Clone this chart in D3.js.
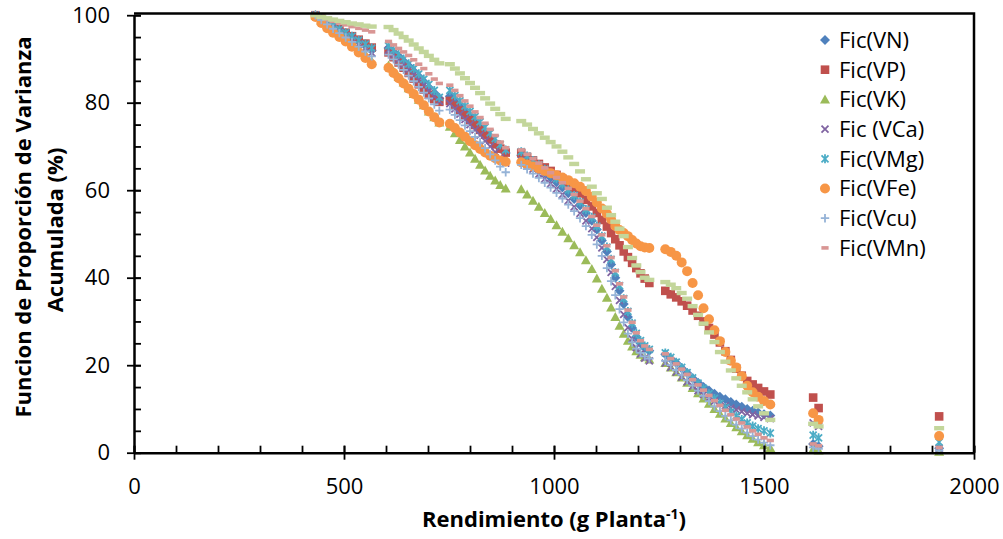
<!DOCTYPE html>
<html>
<head>
<meta charset="utf-8">
<script src="https://cdn.jsdelivr.net/npm/d3@7"></script>
<style>
  body { margin: 0; background: #fff; }
  svg { display: block; font-family: "Open Sans", Lato, sans-serif; }
</style>
</head>
<body>
<svg id="chart" width="1003" height="539"></svg>
<script>
// shared yield values (g planta-1), sorted
const rendimiento = [
  432, 446, 460, 474, 489, 504, 519, 535, 551, 566,
  606, 618, 630, 642, 654, 666, 678, 690, 702, 715, 727,
  752, 764, 776, 788, 800, 812, 824, 836, 848, 860, 872, 885,
  922, 936, 950, 964, 978, 992, 1006, 1020, 1034, 1048, 1062, 1076, 1090, 1102, 1114, 1126, 1136, 1146, 1156, 1166, 1176, 1186, 1196, 1206, 1216, 1227,
  1265, 1278, 1291, 1304, 1317, 1330, 1343, 1356, 1369, 1382, 1395, 1408, 1421, 1434, 1447, 1460, 1473, 1486, 1500, 1515,
  1617, 1630, 1917
];

const ficVN = [
  100, 99.0, 98.2, 97.4, 96.6, 95.8, 95.0, 94.0, 93.0, 92.0,
  92.5, 91.6, 90.6, 89.5, 88.4, 87.2, 86.0, 84.8, 83.5, 82.2, 81.0,
  81.5, 80.2, 79.0, 77.8, 76.6, 75.4, 74.2, 73.0, 71.8, 70.6, 69.5, 68.5,
  68.0, 67.0, 66.0, 65.0, 64.0, 62.9, 61.8, 60.6, 59.3, 58.0, 56.5, 54.8, 53.0, 51.0, 48.5, 46.0, 43.0, 40.0, 37.0, 34.0, 31.0, 28.5, 26.5, 25.0, 24.0, 23.3,
  22.5, 21.5, 20.5, 19.3, 18.2, 17.0, 16.0, 15.0, 14.2, 13.5, 12.8, 12.2, 11.6, 11.0, 10.5, 10.0, 9.6, 9.2, 8.8, 8.5,
  2.0, 1.5, 1.0
];
const ficVP = [
  100, 99.2, 98.4, 97.6, 96.8, 96.0, 95.2, 94.4, 93.5, 92.6,
  91.5, 90.4, 89.2, 88.0, 86.8, 85.5, 84.2, 83.0, 81.8, 80.8, 80.2,
  80.4, 79.3, 78.2, 77.1, 76.0, 74.9, 73.8, 72.7, 71.6, 70.5, 69.5, 68.6,
  68.5, 67.6, 66.8, 66.0, 65.2, 64.4, 63.5, 62.6, 61.6, 60.5, 59.3, 57.8, 56.3, 54.8, 53.2, 51.7, 50.2, 48.8, 47.4, 46.0, 44.7, 43.4, 42.2, 41.0, 39.8, 38.8,
  37.0, 36.2, 35.5, 34.6, 33.6, 32.5, 31.3, 30.0, 28.5, 27.0, 25.2, 23.2, 21.2, 19.2, 17.6, 16.4, 15.6, 14.8, 14.0, 13.3,
  12.6, 10.2, 8.3
];
const ficVK = [
  100, 98.8, 97.8, 96.8, 95.8, 94.8, 93.6, 92.4, 91.0, 89.5,
  88.5, 87.2, 85.9, 84.6, 83.3, 82.0, 80.7, 79.4, 78.0, 76.7, 75.5,
  74.5, 73.0, 71.5, 70.0, 68.6, 67.2, 65.8, 64.5, 63.3, 62.2, 61.2, 60.4,
  60.2, 59.0, 57.6, 56.2, 54.8, 53.4, 52.0, 50.5, 49.0, 47.4, 45.8, 44.0, 42.0, 39.8, 37.5, 35.4, 33.2, 31.0, 29.0, 27.2, 25.6, 24.3, 23.2, 22.4, 21.8, 21.3,
  20.5, 19.5, 18.4, 17.2, 16.0, 14.8, 13.6, 12.4, 11.2, 10.0, 8.9, 7.8, 6.8, 5.8, 4.9, 4.0, 3.2, 2.4, 1.7, 1.1,
  0.8, 0.5, 0.2
];
const ficVCa = [
  100, 99.0, 98.0, 97.1, 96.2, 95.3, 94.4, 93.4, 92.4, 91.4,
  92.0, 91.0, 89.9, 88.8, 87.6, 86.4, 85.2, 84.0, 82.7, 81.4, 80.3,
  79.8, 78.6, 77.4, 76.2, 75.0, 73.8, 72.6, 71.3, 70.0, 68.7, 67.4, 66.2,
  66.8, 65.8, 64.8, 63.7, 62.6, 61.5, 60.3, 59.0, 57.6, 56.2, 54.7, 53.0, 51.2, 49.2, 46.8, 44.2, 41.2, 38.0, 34.8, 31.6, 28.6, 26.0, 24.0, 22.6, 21.6, 21.0,
  20.5, 19.5, 18.4, 17.3, 16.2, 15.2, 14.2, 13.3, 12.5, 11.8, 11.2, 10.7, 10.2, 9.8, 9.4, 9.0, 8.7, 8.4, 8.1, 7.8,
  6.8, 6.0, 1.0
];
const ficVMg = [
  100, 99.2, 98.4, 97.6, 96.8, 96.0, 95.2, 94.3, 93.4, 92.5,
  93.0, 92.0, 91.0, 90.0, 88.9, 87.8, 86.6, 85.4, 84.2, 82.8, 81.2,
  82.8, 81.6, 80.4, 79.2, 78.0, 76.8, 75.6, 74.4, 73.1, 71.8, 70.4, 69.2,
  68.8, 67.8, 66.8, 65.8, 64.8, 63.7, 62.6, 61.4, 60.1, 58.8, 57.3, 55.6, 53.8, 51.8, 49.5, 47.0, 44.2, 41.2, 38.2, 35.2, 32.3, 29.6, 27.3, 25.6, 24.4, 23.6,
  22.8, 21.8, 20.7, 19.5, 18.3, 17.1, 15.9, 14.7, 13.5, 12.4, 11.3, 10.3, 9.3, 8.4, 7.6, 6.8, 6.1, 5.5, 5.0, 4.5,
  4.0, 3.4, 2.4
];
const ficVFe = [
  99.6, 98.2, 97.0, 96.0, 95.0, 94.0, 92.8, 91.5, 90.2, 88.8,
  88.0, 86.8, 85.6, 84.4, 83.2, 82.0, 80.7, 79.4, 78.0, 76.7, 75.5,
  75.2, 74.2, 73.2, 72.2, 71.2, 70.3, 69.4, 68.6, 67.9, 67.3, 66.8, 66.5,
  66.4, 65.9, 65.4, 64.9, 64.4, 63.9, 63.4, 62.9, 62.3, 61.6, 60.8, 59.8, 58.5, 57.2, 55.8, 54.6, 53.3, 51.8, 50.9, 50.2, 49.5, 48.6, 47.8, 47.2, 46.9, 46.8,
  46.5, 45.9, 45.0, 43.5, 41.5, 38.8, 36.0, 33.0, 30.5, 28.0, 25.5, 23.0, 21.0, 19.5, 17.5, 15.3, 13.8, 12.8, 11.8, 11.0,
  9.0, 7.5, 3.8
];
const ficVcu = [
  100, 98.9, 97.9, 96.9, 95.9, 94.9, 93.9, 92.8, 91.7, 90.6,
  91.0, 89.9, 88.7, 87.5, 86.2, 84.9, 83.6, 82.3, 81.0, 79.6, 78.2,
  78.4, 77.2, 76.0, 74.8, 73.5, 72.2, 70.9, 69.6, 68.2, 66.8, 65.4, 64.1,
  65.8, 64.8, 63.8, 62.8, 61.7, 60.6, 59.4, 58.1, 56.7, 55.2, 53.6, 51.8, 49.8, 47.6, 45.0, 42.2, 39.2, 36.0, 32.8, 29.8, 27.2, 25.2, 23.8, 22.8, 22.0, 21.5,
  21.0, 20.0, 18.9, 17.8, 16.6, 15.4, 14.2, 13.0, 11.8, 10.6, 9.5, 8.4, 7.4, 6.4, 5.5, 4.6, 3.8, 3.0, 2.3, 1.7,
  1.2, 0.9, 0.5
];
const ficVMn = [
  100, 99.5, 99.0, 98.6, 98.2, 97.8, 97.4, 97.0, 96.6, 96.2,
  94.0, 93.2, 92.4, 91.6, 90.8, 89.8, 88.8, 87.8, 86.6, 85.4, 84.4,
  84.0, 82.8, 81.6, 80.4, 79.2, 77.9, 76.6, 75.3, 73.9, 72.5, 71.0, 69.7,
  69.2, 68.2, 67.2, 66.2, 65.1, 64.0, 62.9, 61.7, 60.4, 59.0, 57.5, 55.8, 54.0, 52.0, 49.8, 47.3, 44.6, 41.6, 38.6, 35.6, 32.6, 29.8, 27.4, 25.6, 24.4, 23.6,
  22.6, 21.5, 20.3, 19.1, 17.9, 16.7, 15.5, 14.3, 13.1, 11.9, 10.8, 9.7, 8.7, 7.7, 6.8, 5.9, 5.0, 4.2, 3.4, 2.8,
  2.0, 1.6, 1.2
];
// ninth series, plotted but left out of the legend
const ficExtra = [
  100, 99.6, 99.3, 99.0, 98.7, 98.4, 98.1, 97.9, 97.6, 97.4,
  97.3, 96.6, 95.8, 95.0, 94.2, 93.3, 92.4, 91.6, 90.7, 89.8, 89.0,
  88.8, 87.8, 86.7, 85.6, 84.5, 83.4, 82.2, 81.0, 79.8, 78.6, 77.4, 76.3,
  75.8, 75.0, 74.0, 73.0, 72.0, 71.0, 70.0, 68.8, 67.5, 66.0, 64.3, 62.5, 60.8, 59.3, 58.0, 56.0, 54.3, 52.8, 51.2, 49.5, 47.0, 44.5, 42.8, 41.3, 40.0, 39.5,
  39.0, 38.4, 37.6, 36.5, 35.2, 33.5, 31.5, 29.5, 27.5, 25.3, 23.0, 20.8, 18.8, 17.0, 15.3, 13.8, 12.2, 10.6, 9.0, 7.5,
  6.6, 6.0, 5.6
];

const legendNames = ["Fic(VN)", "Fic(VP)", "Fic(VK)", "Fic (VCa)", "Fic(VMg)", "Fic(VFe)", "Fic(Vcu)", "Fic(VMn)"];
const xTicks = [0, 500, 1000, 1500, 2000];
const yTicks = [0, 20, 40, 60, 80, 100];

const series = [
  { name: legendNames[0], values: ficVN, marker: "diamond", color: "#4F81BD" },
  { name: legendNames[1], values: ficVP, marker: "square", color: "#C0504D" },
  { name: legendNames[2], values: ficVK, marker: "triangle", color: "#9BBB59" },
  { name: legendNames[3], values: ficVCa, marker: "x", color: "#8064A2" },
  { name: legendNames[4], values: ficVMg, marker: "star", color: "#4BACC6" },
  { name: legendNames[5], values: ficVFe, marker: "circle", color: "#F79646" },
  { name: legendNames[6], values: ficVcu, marker: "plus", color: "#95B3D7" },
  { name: legendNames[7], values: ficVMn, marker: "dash", color: "#D99694" },
  { name: null, values: ficExtra, marker: "bar", color: "#C3D69B" }
];

const svg = d3.select("#chart");
const x = d3.scaleLinear().domain([0, 2000]).range([134, 974]);
const y = d3.scaleLinear().domain([0, 100]).range([452.7, 15.2]);

function drawMarker(g, kind, color) {
  if (kind === "diamond") {
    g.append("path").attr("d", "M0,-5L5,0L0,5L-5,0Z").attr("fill", color);
  } else if (kind === "square") {
    g.append("rect").attr("x", -4.3).attr("y", -4.3).attr("width", 8.6).attr("height", 8.6).attr("fill", color);
  } else if (kind === "triangle") {
    g.append("path").attr("d", "M0,-5L5,4L-5,4Z").attr("fill", color);
  } else if (kind === "x") {
    g.append("path").attr("d", "M-3.5,-3.5L3.5,3.5M-3.5,3.5L3.5,-3.5")
      .attr("stroke", color).attr("stroke-width", 1.8).attr("fill", "none");
  } else if (kind === "star") {
    g.append("path").attr("d", "M-3.5,-3.5L3.5,3.5M-3.5,3.5L3.5,-3.5M0,-4.5L0,4.5")
      .attr("stroke", color).attr("stroke-width", 1.8).attr("fill", "none");
  } else if (kind === "circle") {
    g.append("circle").attr("r", 5).attr("fill", color);
  } else if (kind === "plus") {
    g.append("path").attr("d", "M-4.2,0L4.2,0M0,-4.2L0,4.2")
      .attr("stroke", color).attr("stroke-width", 1.8).attr("fill", "none");
  } else if (kind === "dash") {
    g.append("rect").attr("x", -3.6).attr("y", -1.8).attr("width", 7.2).attr("height", 3.6).attr("fill", color);
  } else if (kind === "bar") {
    g.append("rect").attr("x", -5).attr("y", -2.2).attr("width", 10).attr("height", 4.4).attr("fill", color);
  }
}

// markers
const plot = svg.append("g");
series.forEach(s => {
  const sg = plot.append("g");
  s.values.forEach((v, i) => {
    const m = sg.append("g").attr("transform", `translate(${x(rendimiento[i])},${y(v)})`);
    drawMarker(m, s.marker, s.color);
  });
});

// plot area border (top and right)
svg.append("path")
  .attr("d", `M${x(0)},13.5H${x(2000)}V${y(0)}`)
  .attr("fill", "none").attr("stroke", "#000").attr("stroke-width", 2.5);

// minor ticks
svg.append("g")
  .attr("transform", `translate(0,${y(0)})`)
  .call(d3.axisBottom(x).tickValues(d3.range(0, 2001, 100)).tickSize(-7).tickFormat(""))
  .call(g => g.select(".domain").remove())
  .call(g => g.selectAll("line").attr("stroke-width", 1.8));
svg.append("g")
  .attr("transform", `translate(${x(0)},0)`)
  .call(d3.axisLeft(y).tickValues(d3.range(0, 101, 5)).tickSize(-7).tickFormat(""))
  .call(g => g.select(".domain").remove())
  .call(g => g.selectAll("line").attr("stroke-width", 1.8));

// major axes
const xAxis = svg.append("g")
  .attr("transform", `translate(0,${y(0)})`)
  .call(d3.axisBottom(x).tickValues(xTicks).tickFormat(d => String(d)).tickSize(7).tickSizeOuter(0).tickPadding(19));
xAxis.selectAll(".tick line").attr("y1", -7).attr("stroke-width", 1.8);
xAxis.select(".domain").attr("stroke-width", 2.5);
xAxis.selectAll("text").attr("font-size", 22).attr("fill", "#000").attr("font-family", "'Open Sans', Lato, sans-serif");

const yAxis = svg.append("g")
  .attr("transform", `translate(${x(0)},0)`)
  .call(d3.axisLeft(y).tickValues(yTicks).tickFormat(d => String(d)).tickSize(7).tickSizeOuter(0).tickPadding(17));
yAxis.selectAll(".tick line").attr("x1", 7).attr("stroke-width", 1.8);
yAxis.select(".domain").attr("stroke-width", 2.5);
yAxis.selectAll("text").attr("font-size", 22).attr("fill", "#000").attr("font-family", "'Open Sans', Lato, sans-serif");

// axis titles
const xt = svg.append("text")
  .attr("x", 554).attr("y", 527)
  .attr("text-anchor", "middle")
  .attr("font-size", 22).attr("font-weight", "bold");
xt.append("tspan").text("Rendimiento (g Planta");
xt.append("tspan").attr("dy", -8).attr("font-size", 14).text("-1");
xt.append("tspan").attr("dy", 8).text(")");

svg.append("text")
  .attr("transform", "translate(31,227) rotate(-90)")
  .attr("text-anchor", "middle")
  .attr("font-size", 22).attr("font-weight", "bold")
  .text("Funcion de Proporción de Varianza");
svg.append("text")
  .attr("transform", "translate(63,230) rotate(-90)")
  .attr("text-anchor", "middle")
  .attr("font-size", 22).attr("font-weight", "bold")
  .text("Acumulada (%)");

// legend
const legend = svg.append("g");
series.filter(s => s.name).forEach((s, i) => {
  const cy = 40 + i * 29.7;
  const m = legend.append("g").attr("transform", `translate(825,${cy})`);
  drawMarker(m, s.marker, s.color);
  legend.append("text")
    .attr("x", 839).attr("y", cy).attr("dy", "0.36em")
    .attr("font-size", 22)
    .text(s.name);
});
</script>
</body>
</html>
